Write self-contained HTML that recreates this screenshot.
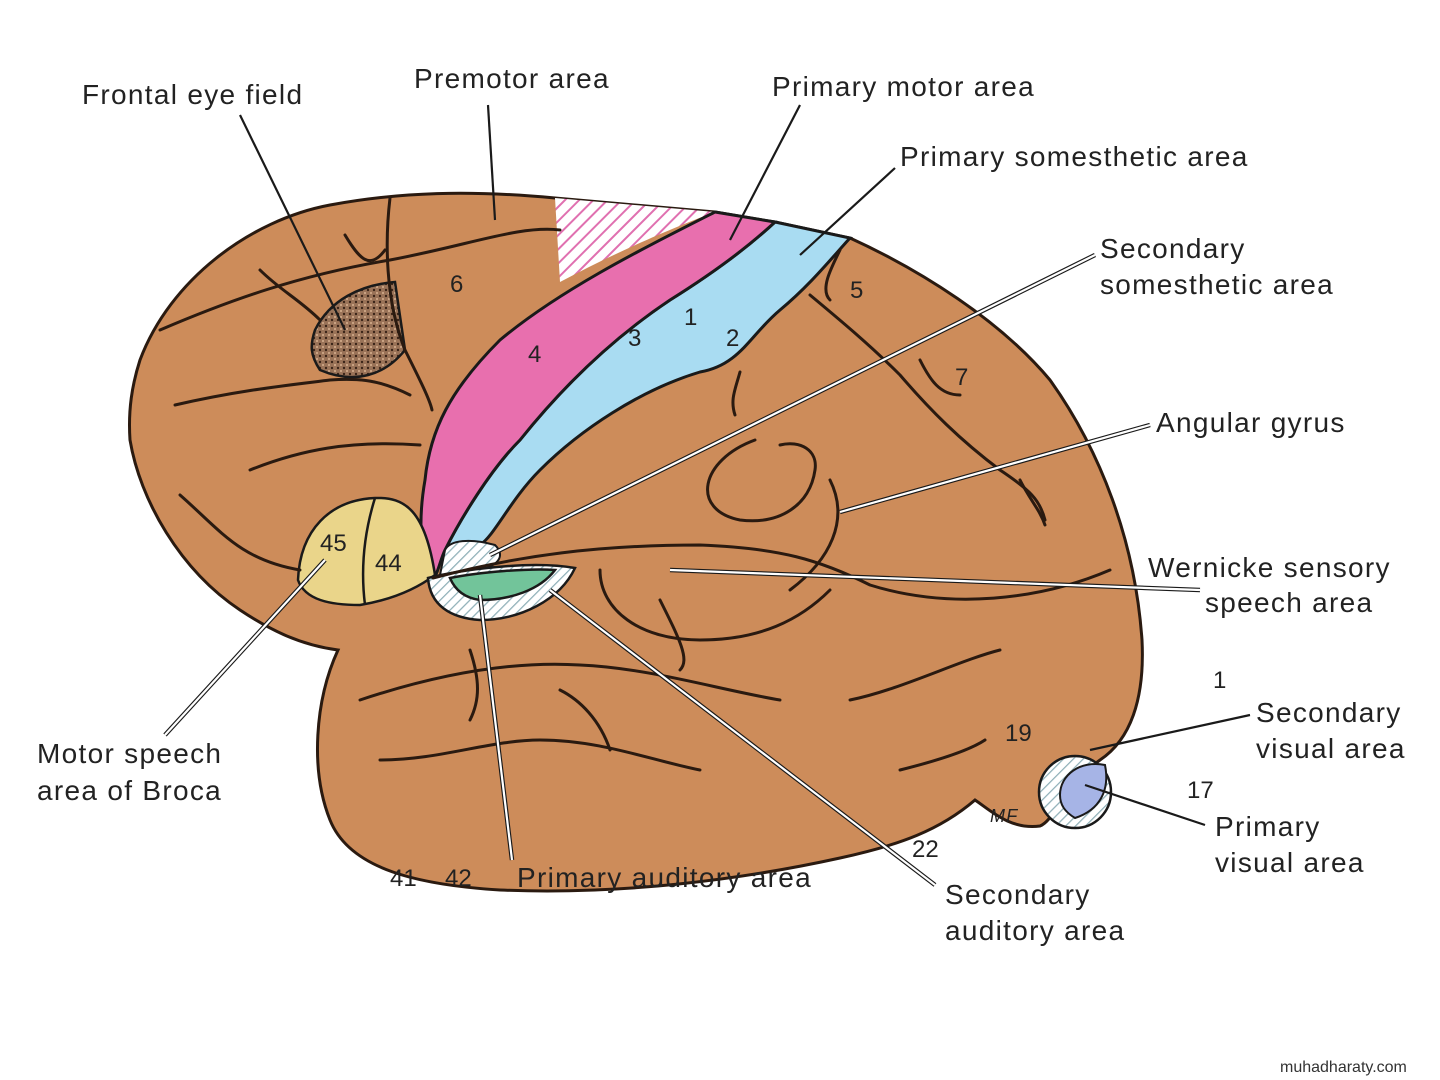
<!DOCTYPE html>
<html><head><meta charset="utf-8"><style>
html,body{margin:0;padding:0;background:#fff;}
svg{display:block}
text{font-family:"Liberation Sans",sans-serif;font-size:28px;letter-spacing:1.3px;fill:#222}
.n{font-size:24px;letter-spacing:0}
</style></head><body>
<svg width="1440" height="1080" viewBox="0 0 1440 1080">
<defs>
<pattern id="hp" width="10" height="10" patternUnits="userSpaceOnUse" patternTransform="rotate(45)">
<rect width="10" height="10" fill="#fff"/><line x1="0" y1="0" x2="0" y2="10" stroke="#e070b0" stroke-width="4"/></pattern>
<pattern id="hb" width="7" height="7" patternUnits="userSpaceOnUse" patternTransform="rotate(45)">
<rect width="7" height="7" fill="#fff"/><line x1="0" y1="0" x2="0" y2="7" stroke="#8fb0b8" stroke-width="2.5"/></pattern>
<pattern id="dots" width="6" height="6" patternUnits="userSpaceOnUse">
<rect width="6" height="6" fill="#9a7358"/><circle cx="2" cy="2" r="1.2" fill="#3a2418"/><circle cx="5" cy="5" r="1" fill="#d8b090"/></pattern>
</defs>
<rect width="1440" height="1080" fill="#fff"/>
<path d="M140,360 C170,280 250,220 330,205 C400,192 470,190 555,198 L715,212 L775,222 L850,238 C920,270 1000,320 1050,380 C1100,450 1135,540 1142,640 C1145,700 1130,740 1100,760 C1060,790 1055,820 1040,826 C1010,830 990,810 975,800 C940,830 900,845 840,858 C740,880 620,895 500,890 C420,885 350,870 330,820 C310,770 315,700 338,650 C300,645 270,630 240,610 C180,570 140,500 130,440 C128,410 132,385 140,360 Z" fill="#cd8c5a" stroke="#2a1a10" stroke-width="3"/>
<path d="M555,198 L715,212 C680,225 620,250 560,282 Z" fill="url(#hp)" stroke="none"/>
<path d="M775,222 L850,238 C830,260 810,285 780,310 C750,335 740,365 700,372 C640,390 580,430 540,470 C510,500 495,535 480,545 L445,550 C460,520 490,470 520,440 C560,390 610,340 670,300 C710,275 745,250 775,222 Z" fill="#a9dcf2" stroke="#1a1a1a" stroke-width="3"/>
<path d="M715,212 L775,222 C745,250 710,275 670,300 C610,340 560,390 520,440 C490,470 460,520 445,550 C440,560 438,575 432,580 C420,560 418,520 425,480 C430,430 450,390 500,340 C560,290 640,250 715,212 Z" fill="#e86fae" stroke="#1a1a1a" stroke-width="3"/>
<path d="M315,330 C330,300 360,285 395,282 L405,350 C385,375 355,385 320,370 C310,355 310,345 315,330 Z" fill="url(#dots)" stroke="#1a1a1a" stroke-width="2.5"/>
<path d="M298,580 C300,530 330,500 375,498 C405,497 425,510 435,575 C415,590 390,600 360,605 C330,605 305,600 298,580 Z" fill="#ead58a" stroke="#1a1a1a" stroke-width="2.5"/>
<path d="M375,498 C365,530 360,565 365,605" fill="none" stroke="#1a1a1a" stroke-width="2.5"/>
<path d="M445,550 C450,540 470,538 495,545 C505,555 500,565 480,570 L440,575 Z" fill="url(#hb)" stroke="#1a1a1a" stroke-width="2"/>
<path d="M428,578 C460,570 530,560 575,568 C560,600 520,620 480,620 C450,618 430,605 428,578 Z" fill="url(#hb)" stroke="#1a1a1a" stroke-width="2.5"/>
<path d="M450,578 C480,572 530,568 555,570 C540,590 510,600 480,600 C465,598 455,590 450,578 Z" fill="#72c49a" stroke="#1a1a1a" stroke-width="2.5"/>
<circle cx="1075" cy="792" r="36" fill="url(#hb)" stroke="#1a1a1a" stroke-width="2.5"/>
<path d="M1060,795 C1060,775 1080,760 1105,765 C1110,790 1100,810 1075,818 C1065,812 1060,805 1060,795 Z" fill="#a6b4e6" stroke="#1a1a1a" stroke-width="2"/>
<g fill="none" stroke="#2a1a10" stroke-width="3" stroke-linecap="round">
<path d="M160,330 C230,300 300,275 390,260 C470,245 520,225 560,230"/>
<path d="M390,198 C385,240 385,300 405,350 C420,380 430,400 432,410"/>
<path d="M345,235 C360,260 370,270 385,250"/>
<path d="M260,270 C280,290 300,300 320,320"/>
<path d="M175,405 C240,390 290,385 330,380 C360,378 380,380 410,395"/>
<path d="M250,470 C300,450 350,440 420,445"/>
<path d="M180,495 C220,530 240,560 300,570"/>
<path d="M433,578 C520,555 600,545 700,545 C780,548 820,560 870,585 C950,610 1040,600 1110,570"/>
<path d="M740,372 C735,390 730,400 735,415"/>
<path d="M810,295 C840,320 870,345 900,375 C930,410 960,440 1000,470 C1030,490 1040,500 1045,520"/>
<path d="M920,360 C930,380 940,395 960,395"/>
<path d="M1020,480 C1030,500 1040,510 1045,525"/>
<path d="M840,250 C830,270 820,290 830,300"/>
<path d="M755,440 C700,460 690,510 740,520 C780,525 810,505 815,470 C818,450 800,440 780,445"/>
<path d="M830,480 C850,520 830,560 790,590"/>
<path d="M600,570 C600,610 640,640 700,640 C760,640 800,620 830,590"/>
<path d="M360,700 C420,680 500,660 580,665 C650,668 720,690 780,700"/>
<path d="M380,760 C440,760 490,740 540,740 C600,740 650,760 700,770"/>
<path d="M560,690 C580,700 600,720 610,750"/>
<path d="M850,700 C900,690 960,660 1000,650"/>
<path d="M660,600 C680,640 690,660 680,670"/>
<path d="M470,650 C480,680 480,700 470,720"/>
<path d="M900,770 C940,760 970,750 985,740"/>
</g>
<g class="n"><text x="450" y="292" class="n">6</text><text x="528" y="362" class="n">4</text><text x="628" y="346" class="n">3</text><text x="684" y="325" class="n">1</text><text x="726" y="346" class="n">2</text>
<text x="850" y="298" class="n">5</text><text x="955" y="385" class="n">7</text><text x="320" y="551" class="n">45</text><text x="375" y="571" class="n">44</text>
<text x="1005" y="741" class="n">19</text><text x="1213" y="688" class="n">1</text><text x="1187" y="798" class="n">17</text><text x="912" y="857" class="n">22</text>
<text x="390" y="886" class="n">41</text><text x="445" y="886" class="n">42</text><text x="990" y="822" style="font-size:18px;font-style:italic">MF</text></g>
<g stroke="#1a1a1a" stroke-width="2.2" fill="none">
<path d="M240,115 L345,330"/>
<path d="M488,105 L495,220"/>
<path d="M800,105 L730,240"/>
<path d="M895,168 L800,255"/>
<path d="M1250,715 L1090,750"/>
<path d="M1205,825 L1085,785"/>
</g>
<g stroke="#1a1a1a" stroke-width="4.5" fill="none">
<path d="M1095,255 L490,555"/><path d="M935,885 L550,590"/><path d="M512,860 L480,595"/><path d="M165,735 L325,560"/><path d="M1200,590 L670,570"/><path d="M1150,425 L840,512"/>
</g>
<g stroke="#fff" stroke-width="2.2" fill="none">
<path d="M1095,255 L490,555"/><path d="M935,885 L550,590"/><path d="M512,860 L480,595"/><path d="M165,735 L325,560"/><path d="M1200,590 L670,570"/><path d="M1150,425 L840,512"/>
</g>
<text x="82" y="104">Frontal eye field</text>
<text x="414" y="88">Premotor area</text>
<text x="772" y="96">Primary motor area</text>
<text x="900" y="166">Primary somesthetic area</text>
<text x="1100" y="258">Secondary</text>
<text x="1100" y="294">somesthetic area</text>
<text x="1156" y="432">Angular gyrus</text>
<text x="1148" y="577">Wernicke sensory</text>
<text x="1205" y="612">speech area</text>
<text x="1256" y="722">Secondary</text>
<text x="1256" y="758">visual area</text>
<text x="1215" y="836">Primary</text>
<text x="1215" y="872">visual area</text>
<text x="945" y="904">Secondary</text>
<text x="945" y="940">auditory area</text>
<text x="517" y="887">Primary auditory area</text>
<text x="37" y="763">Motor speech</text>
<text x="37" y="800">area of Broca</text>
<text x="1280" y="1072" style="font-size:16px;letter-spacing:0;fill:#333">muhadharaty.com</text>
</svg>
</body></html>
